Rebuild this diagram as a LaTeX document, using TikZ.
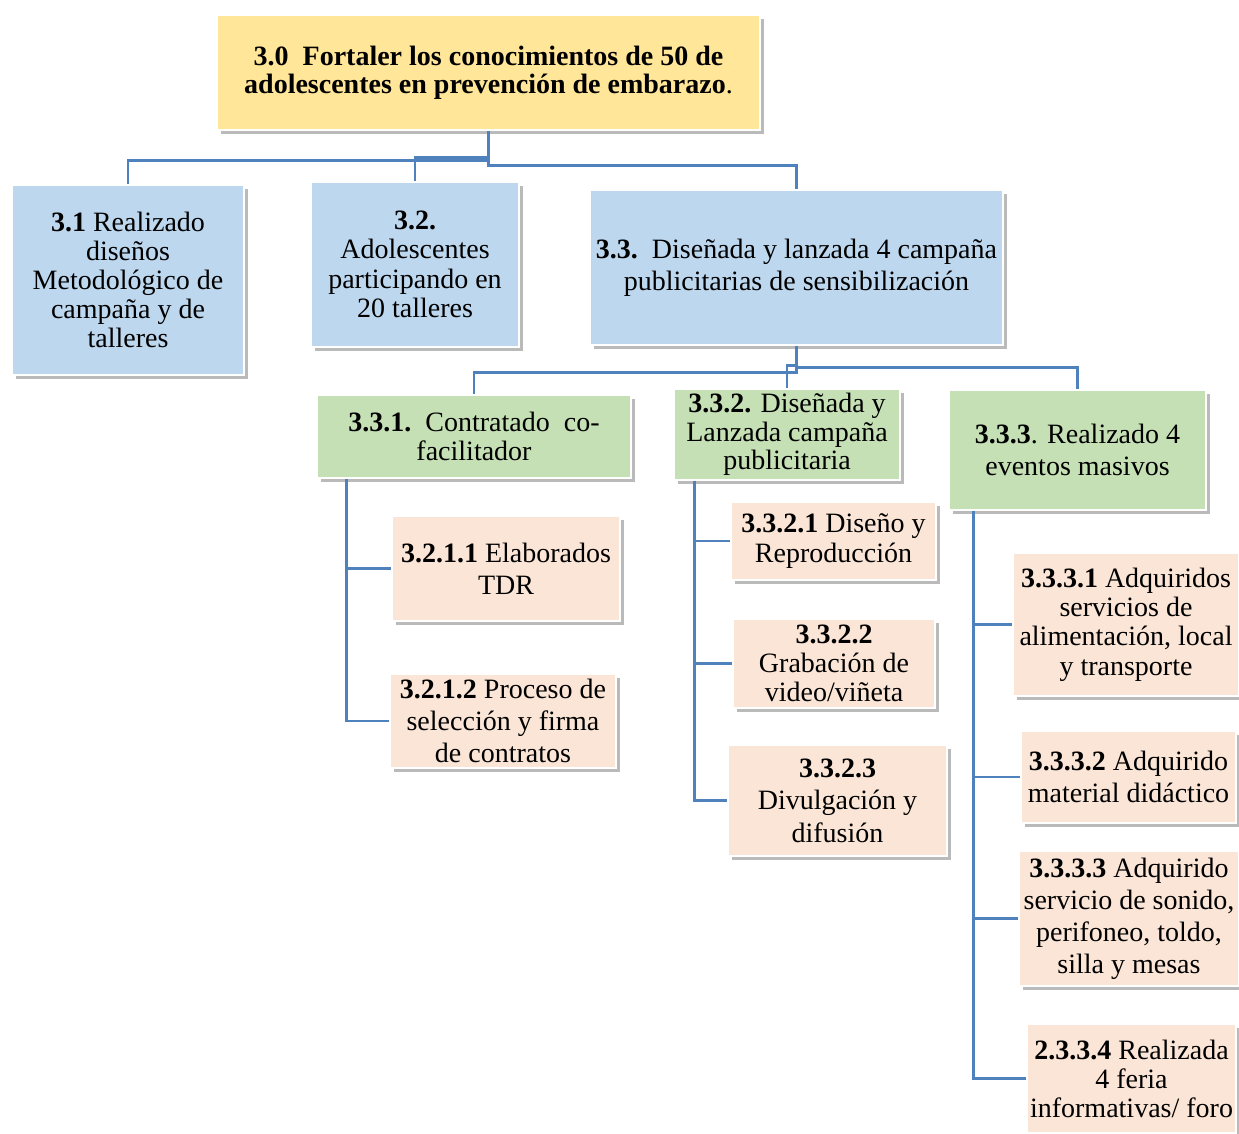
\documentclass[tikz,border=0pt]{standalone}
\usepackage{fontspec}
\setmainfont{Liberation Serif}
\usetikzlibrary{shadows}
\definecolor{lineblue}{RGB}{79,129,189}
\definecolor{rootfill}{RGB}{255,230,153}
\definecolor{bluefill}{RGB}{189,215,238}
\definecolor{greenfill}{RGB}{197,224,180}
\definecolor{peachfill}{RGB}{251,229,214}
\tikzset{
  boxbase/.style={draw=white, line width=1.5pt, inner sep=0pt, align=center,
    drop shadow={shadow xshift=3.5pt, shadow yshift=-3.5pt, opacity=0.45, fill=black!60}},
  rootbox/.style={boxbase, fill=rootfill},
  bluebox/.style={boxbase, fill=bluefill},
  greenbox/.style={boxbase, fill=greenfill},
  peachbox/.style={boxbase, fill=peachfill},
  conn/.style={draw=lineblue, line width=2.6pt}
}
\newcommand\mybox[8]{%
  \node[#6, minimum width={#4-#2}, minimum height={#5-#3},
        font=\fontsize{28}{#7}\selectfont] (#1) at ({(#2+#4)/2},{(#3+#5)/2}) {#8};}
\begin{document}
\begin{tikzpicture}[x=1pt,y=-1pt]
\useasboundingbox[fill=white] (0,0) rectangle (1239,1133);
% connectors first (behind boxes)
\mybox{root}{217}{15}{760}{130}{rootbox}{28}{\textbf{3.0\ \ Fortaler los conocimientos de 50 de}\\\textbf{adolescentes en prevención de embarazo}.}
\mybox{b31}{12}{185}{244}{375}{bluebox}{29}{\textbf{3.1} Realizado\\diseños\\Metodológico de\\campaña y de\\talleres}
\mybox{b32}{311}{182}{519}{347}{bluebox}{29.5}{\textbf{3.2.}\\Adolescentes\\participando en\\20 talleres}
\mybox{b33}{590}{190}{1003}{345}{bluebox}{32}{\textbf{3.3.}\ \ Diseñada y lanzada 4 campaña\\publicitarias de sensibilización}
\mybox{c331}{317}{395}{631}{478}{greenbox}{29}{\textbf{3.3.1.}\ \ Contratado\ \ co-\\facilitador}
\mybox{c332}{674}{389}{900}{480}{greenbox}{28.5}{\textbf{3.3.2.} Diseñada y\\Lanzada campaña\\publicitaria}
\mybox{c333}{949}{390}{1206}{510}{greenbox}{32}{\textbf{3.3.3}. Realizado 4\\eventos masivos}
\mybox{p3211}{392}{516}{620}{621}{peachbox}{32}{\textbf{3.2.1.1} Elaborados\\TDR}
\mybox{p3212}{390}{674}{616}{768}{peachbox}{32}{\textbf{3.2.1.2} Proceso de\\selección y firma\\de contratos}
\mybox{p3321}{731}{502}{936}{580}{peachbox}{30}{\textbf{3.3.2.1} Diseño y\\Reproducción}
\mybox{p3322}{733}{619}{935}{708}{peachbox}{29}{\textbf{3.3.2.2}\\Grabación de\\video/viñeta}
\mybox{p3323}{728}{745}{947}{856}{peachbox}{32.5}{\textbf{3.3.2.3}\\Divulgación y\\difusión}
\mybox{p3331}{1013}{553}{1239}{696}{peachbox}{29.3}{\textbf{3.3.3.1} Adquiridos\\servicios de\\alimentación, local\\y transporte}
\mybox{p3332}{1021}{731}{1236}{823}{peachbox}{32}{\textbf{3.3.3.2} Adquirido\\material didáctico}
\mybox{p3333}{1019}{851}{1239}{986}{peachbox}{32}{\textbf{3.3.3.3} Adquirido\\servicio de sonido,\\perifoneo, toldo,\\silla y mesas}
\mybox{p3334}{1027}{1024}{1236}{1133}{peachbox}{29}{\textbf{2.3.3.4} Realizada\\4 feria\\informativas/ foro}
% top level connectors
\draw[conn] (root.south) -- ++(0,30) -| (b31.north);
\draw[conn] (root.south) -- ++(0,27) -| (b32.north);
\draw[conn] (root.south) -- ++(0,35) -| (b33.north);
% second level
\draw[conn] (b33.south) -- ++(0,27) -| (c331.north);
\draw[conn] (b33.south) -- ++(0,20) -| (c332.north);
\draw[conn] (b33.south) -- ++(0,22) -| (c333.north);
% buses
\draw[conn] ([xshift=30pt]c331.south west) |- (p3211.west);
\draw[conn] ([xshift=30pt]c331.south west) |- (p3212.west);
\draw[conn] ([xshift=21pt]c332.south west) |- (p3321.west);
\draw[conn] ([xshift=21pt]c332.south west) |- (p3322.west);
\draw[conn] ([xshift=21pt]c332.south west) |- (p3323.west);
\draw[conn] ([xshift=25pt]c333.south west) |- (p3331.west);
\draw[conn] ([xshift=25pt]c333.south west) |- (p3332.west);
\draw[conn] ([xshift=25pt]c333.south west) |- (p3333.west);
\draw[conn] ([xshift=25pt]c333.south west) |- (p3334.west);
\end{tikzpicture}
\end{document}
